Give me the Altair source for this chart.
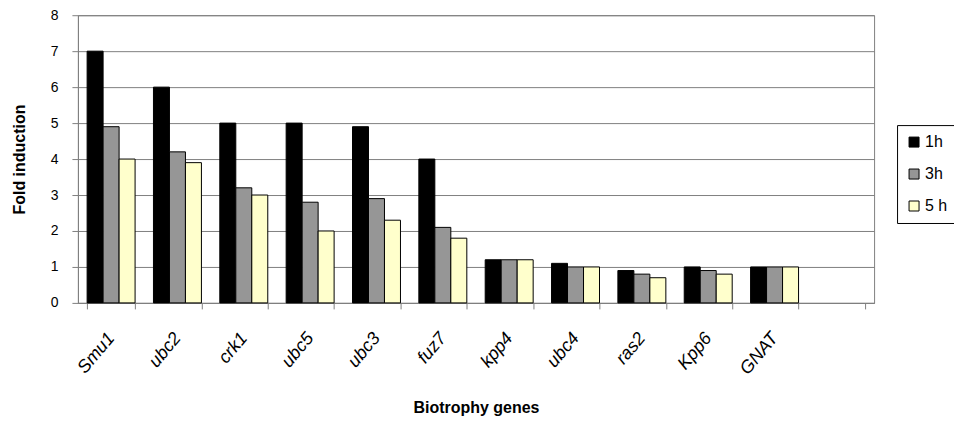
import altair as alt
import pandas as pd

genes = ["Smu1", "ubc2", "crk1", "ubc5", "ubc3", "fuz7", "kpp4", "ubc4", "ras2", "Kpp6", "GNAT"]
domain = genes + [" "]
series = ["1h", "3h", "5 h"]
v1h = [7.0, 6.0, 5.0, 5.0, 4.9, 4.0, 1.2, 1.1, 0.9, 1.0, 1.0]
v3h = [4.9, 4.2, 3.2, 2.8, 2.9, 2.1, 1.2, 1.0, 0.8, 0.9, 1.0]
v5h = [4.0, 3.9, 3.0, 2.0, 2.3, 1.8, 1.2, 1.0, 0.7, 0.8, 1.0]
colors = ["#000000", "#969696", "#FFFFCC"]

rows = []
for s, vals in zip(series, [v1h, v3h, v5h]):
    for g, v in zip(genes, vals):
        rows.append({"gene": g, "series": s, "value": v})
df = pd.DataFrame(rows)

chart = alt.Chart(df).mark_bar(stroke="black", strokeWidth=1).encode(
    x=alt.X("gene:N",
            scale=alt.Scale(domain=domain, paddingInner=0.277, paddingOuter=0.1385),
            axis=alt.Axis(title="Biotrophy genes", labelAngle=-50, labelAlign="right",
                          labelBaseline="middle", labelPadding=26, labelFont="Liberation Sans",
                          labelFontStyle="italic", labelFontSize=18, labelColor="black",
                          tickBand="extent", tickSize=6, tickColor="#808080",
                          domainColor="#808080", titleFont="Liberation Sans",
                          titleFontSize=16, titleFontWeight="bold", titleColor="black",
                          titleY=110, titleBaseline="alphabetic")),
    xOffset=alt.XOffset("series:N", scale=alt.Scale(domain=series, paddingInner=0, paddingOuter=0)),
    y=alt.Y("value:Q",
            scale=alt.Scale(domain=[0, 8], nice=False),
            axis=alt.Axis(title="Fold induction", values=list(range(0, 9)), tickSize=6,
                          tickColor="#808080", domainColor="#808080", gridColor="#808080",
                          labelFont="Liberation Sans", labelFontSize=14, labelColor="black",
                          labelPadding=14, titleFont="Liberation Sans", titleFontSize=16,
                          titleFontWeight="bold", titleColor="black", titleX=-58,
                          titleBaseline="middle")),
    color=alt.Color("series:N",
                    scale=alt.Scale(domain=series, range=colors),
                    legend=alt.Legend(title=None, orient="none", legendX=820, legendY=110,
                                      strokeColor="black", padding=9, symbolType="square",
                                      symbolSize=100, symbolStrokeColor="black",
                                      symbolStrokeWidth=1, labelFont="Liberation Sans",
                                      labelFontSize=16, labelColor="black", rowPadding=16,
                                      labelOffset=3)),
).properties(
    width=797, height=288,
    autosize=alt.AutoSizeParams(type="none"),
    padding={"left": 70, "top": 7, "right": 80, "bottom": 114},
).configure_view(stroke="#808080").configure_axis(grid=True).configure_axisX(grid=False)

chart.save("out.html", embed_options={"renderer": "svg", "actions": False})
